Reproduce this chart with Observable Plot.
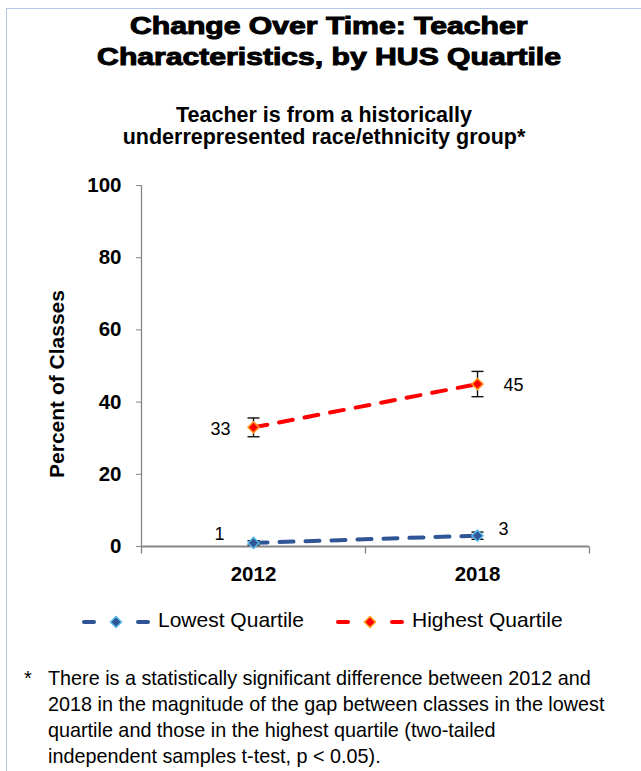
<!DOCTYPE html>
<html>
<head>
<meta charset="utf-8">
<script src="https://cdn.jsdelivr.net/npm/d3@7"></script>
<script src="https://cdn.jsdelivr.net/npm/@observablehq/plot@0.6"></script>
<style>
html, body { margin: 0; padding: 0; background: #fff; }
#page { position: relative; width: 641px; height: 771px; overflow: hidden; font-family: "Liberation Sans", Arial, sans-serif; color: #000; }
#frame { position: absolute; left: 6px; top: 8px; width: 700px; height: 800px; border-left: 1px solid #B4C7E7; border-top: 1px solid #B4C7E7; }
#title { position: absolute; left: 0; top: 10.5px; width: 658px; text-align: center; font-weight: bold; font-size: 23px; line-height: 31px; white-space: nowrap; }
#title span { display: inline-block; transform: scaleX(1.31); -webkit-text-stroke: 1px #000; }
#subtitle { position: absolute; left: 0; top: 104.3px; width: 648px; text-align: center; font-weight: bold; font-size: 21.5px; line-height: 22px; white-space: nowrap; }
#ylabel { position: absolute; left: 57px; top: 384px; transform: translate(-50%, -50%) rotate(-90deg); font-weight: bold; font-size: 21px; white-space: nowrap; }
#chart { position: absolute; left: 0; top: 170px; }
#chart svg text { fill: #000; }
.legend-swatch { position: absolute; top: 611.7px; }
.legend-text { position: absolute; top: 608px; font-size: 21px; line-height: 24px; white-space: nowrap; }
#star { position: absolute; left: 24px; top: 665.4px; font-size: 19.8px; line-height: 26px; }
#note { position: absolute; left: 48px; top: 665.4px; font-size: 19.8px; line-height: 26px; white-space: nowrap; }
</style>
</head>
<body>
<div id="page">
  <div id="frame"></div>
  <div id="title"></div>
  <div id="subtitle"></div>
  <div id="ylabel"></div>
  <div id="chart"></div>
  <div id="legend"></div>
  <div id="star">*</div>
  <div id="note"></div>
</div>
<script>
// ---- Data ----
const titleLines = ["Change Over Time: Teacher", "Characteristics, by HUS Quartile"];
const subtitleLines = ["Teacher is from a historically", "underrepresented race/ethnicity group*"];
const yAxisLabel = "Percent of Classes";
const years = [2012, 2018];
const seriesNames = ["Lowest Quartile", "Highest Quartile"];
const lowestValues = [1, 3];
const highestValues = [33, 45];
const lowestErr = [0.6, 1.0];
const highestErr = [2.6, 3.5];
const yTicks = [0, 20, 40, 60, 80, 100];
const seriesColors = ["#2F5597", "#FF0000"];
const markerOutline = ["#5BB8EA", "#FF9A1F"];
const noteLines = [
  "There is a statistically significant difference between 2012 and",
  "2018 in the magnitude of the gap between classes in the lowest",
  "quartile and those in the highest quartile (two-tailed",
  "independent samples t-test, p < 0.05)."
];

// ---- Text blocks ----
document.getElementById("title").innerHTML = titleLines.map(t => `<span>${t}</span>`).join("<br>");
document.getElementById("subtitle").innerHTML = subtitleLines.join("<br>");
document.getElementById("ylabel").textContent = yAxisLabel;
document.getElementById("note").innerHTML = noteLines.map(t => t.replace(/</g, "&lt;")).join("<br>");

// ---- Table ----
const valueSets = [lowestValues, highestValues];
const errSets = [lowestErr, highestErr];
const rows = [];
seriesNames.forEach((s, si) => years.forEach((yr, yi) => {
  rows.push({series: s, year: yr, value: valueSets[si][yi], err: errSets[si][yi]});
}));
const caps = rows.flatMap(d => [{...d, cap: d.value - d.err}, {...d, cap: d.value + d.err}]);

const step = years[1] - years[0];
const bounds = [years[0] - step / 2, (years[0] + years[1]) / 2, years[1] + step / 2];

const capSymbol = {draw(ctx, size) { const r = Math.sqrt(size / Math.PI); ctx.moveTo(-r, 0); ctx.lineTo(r, 0); }};
const tickDown = {draw(ctx, size) { const r = Math.sqrt(size / Math.PI); ctx.moveTo(0, 0); ctx.lineTo(0, r); }};

const marks = [
  Plot.ruleY([0], {stroke: "#868686", strokeWidth: 2}),
  Plot.ruleX([bounds[0]], {y1: 0, y2: yTicks[yTicks.length - 1], stroke: "#868686", strokeWidth: 1.3}),
  Plot.dot(bounds, {x: d => d, y: () => 0, symbol: tickDown, r: 7, stroke: "#868686", strokeWidth: 1.3, fill: "none"})
];
seriesNames.forEach((s, si) => {
  const sub = rows.filter(d => d.series === s);
  marks.push(Plot.line(sub, {x: "year", y: "value", stroke: seriesColors[si], strokeWidth: 4, strokeDasharray: "14,12", strokeLinecap: "round"}));
});
marks.push(Plot.ruleX(rows, {x: "year", y1: d => d.value - d.err, y2: d => d.value + d.err, stroke: "#111", strokeWidth: 1.4}));
marks.push(Plot.dot(caps, {x: "year", y: "cap", symbol: capSymbol, r: 6, stroke: "#111", strokeWidth: 1.4, fill: "none"}));
seriesNames.forEach((s, si) => {
  const sub = rows.filter(d => d.series === s);
  marks.push(Plot.dot(sub, {x: "year", y: "value", symbol: "diamond2", r: 5, fill: seriesColors[si], stroke: markerOutline[si], strokeWidth: 1.5}));
});
const labelStyle = {x: "year", y: "value", text: d => String(d.value), fontSize: 18, fontWeight: "normal", fill: "#000"};
marks.push(Plot.text(rows.filter(d => d.series === seriesNames[1] && d.year === years[0]), {...labelStyle, textAnchor: "end", dx: -23, dy: 2}));
marks.push(Plot.text(rows.filter(d => d.series === seriesNames[1] && d.year === years[1]), {...labelStyle, textAnchor: "start", dx: 26, dy: 1}));
marks.push(Plot.text(rows.filter(d => d.series === seriesNames[0] && d.year === years[0]), {...labelStyle, textAnchor: "end", dx: -29, dy: -9}));
marks.push(Plot.text(rows.filter(d => d.series === seriesNames[0] && d.year === years[1]), {...labelStyle, textAnchor: "start", dx: 21, dy: -6}));

const chart = Plot.plot({
  width: 641,
  height: 420,
  marginTop: 15,
  marginBottom: 44,
  marginLeft: 141,
  marginRight: 52,
  style: {fontFamily: "'Liberation Sans', Arial, sans-serif", fontSize: "20.5px", fontWeight: "bold", color: "#868686", background: "transparent", overflow: "visible"},
  x: {domain: [bounds[0], bounds[2]], ticks: years, tickSize: 0, tickPadding: 20, tickFormat: d => String(d), label: null},
  y: {domain: [yTicks[0], yTicks[yTicks.length - 1]], ticks: yTicks, tickSize: 5, tickPadding: 15, tickFormat: d => String(d), label: null},
  marks
});
document.getElementById("chart").appendChild(chart);

// ---- Legend ----
const legend = document.getElementById("legend");
const legendLefts = [80, 334];
const textLefts = [158, 412];
seriesNames.forEach((s, si) => {
  const ns = "http://www.w3.org/2000/svg";
  const svg = document.createElementNS(ns, "svg");
  svg.setAttribute("width", 74);
  svg.setAttribute("height", 20);
  svg.setAttribute("class", "legend-swatch");
  svg.style.left = legendLefts[si] + "px";
  svg.innerHTML =
    `<line x1="4" y1="10" x2="14" y2="10" stroke="${seriesColors[si]}" stroke-width="4" stroke-linecap="round"/>` +
    `<line x1="58" y1="10" x2="68" y2="10" stroke="${seriesColors[si]}" stroke-width="4" stroke-linecap="round"/>` +
    `<path d="M36,4.5L41.5,10L36,15.5L30.5,10Z" fill="${seriesColors[si]}" stroke="${markerOutline[si]}" stroke-width="1.5"/>`;
  legend.appendChild(svg);
  const t = document.createElement("div");
  t.className = "legend-text";
  t.style.left = textLefts[si] + "px";
  t.textContent = s;
  legend.appendChild(t);
});
</script>
</body>
</html>
